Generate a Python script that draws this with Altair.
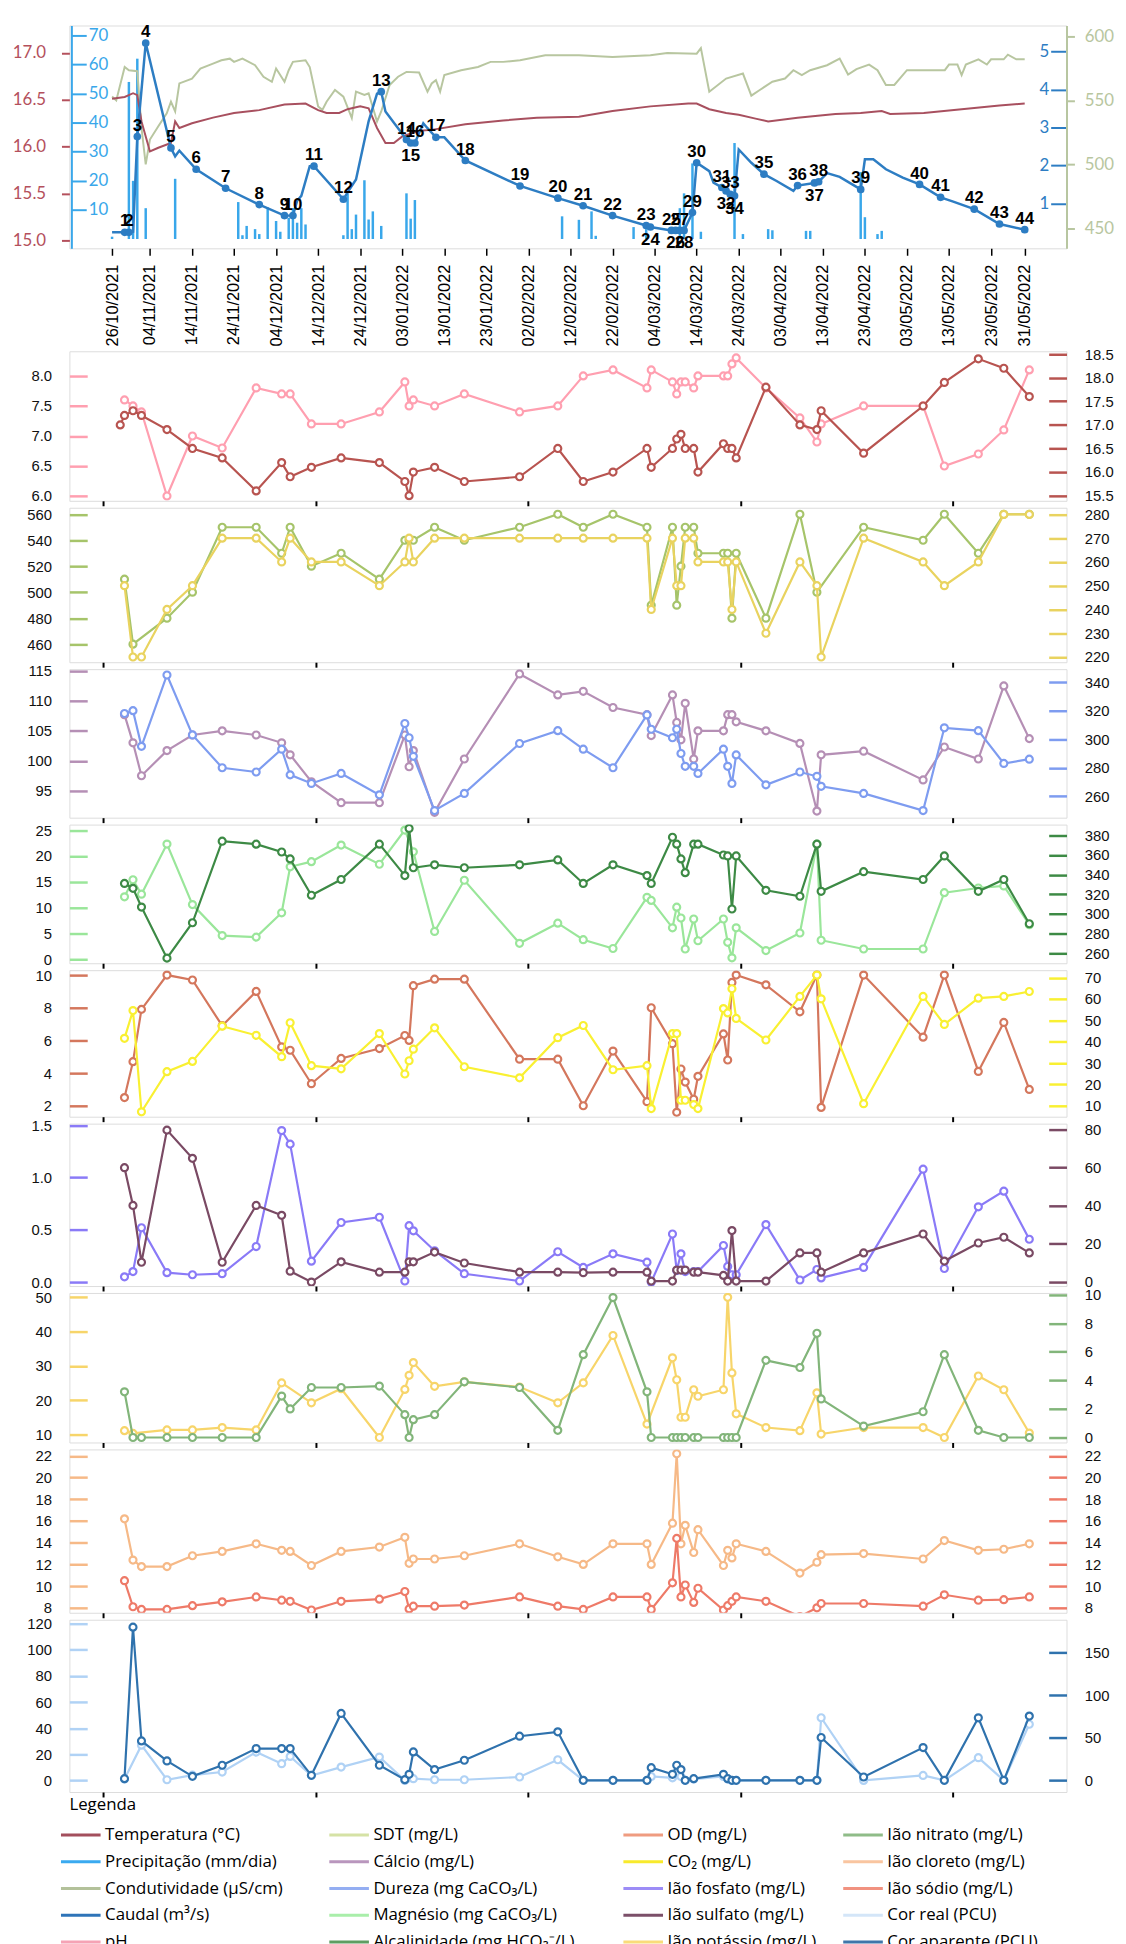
import altair as alt
import pandas as pd
from datetime import datetime, timedelta, timezone

# ----------------------------------------------------------------- dados
# dias contados a partir de 26/10/2021
dias_amostra = [3, 4, 6, 8, 14, 20, 27, 35, 41, 43, 48, 55, 64, 70, 71, 72, 77, 84, 97, 106,
                112, 119, 127, 128, 133, 134, 135, 136, 138, 139, 145, 146, 147, 148, 155, 163,
                167, 168, 178, 192, 197, 205, 211, 217]

caudal_dias = [0, 3, 4, 5, 6, 8, 14, 15, 16, 20, 27, 35, 41, 43, 44, 45, 47, 48, 55, 56, 58, 61,
               63, 64, 65, 68, 70, 71, 72, 74, 75, 77, 79, 84, 97, 106, 112, 119, 127, 128, 133,
               136, 138, 139, 142, 143, 145, 146, 147, 148, 149, 152, 155, 158, 162, 163, 167,
               168, 170, 173, 178, 179, 181, 184, 188, 192, 197, 200, 205, 211, 217]
caudal_vals = [0.24, 0.24, 0.24, 0.26, 2.76, 5.22, 2.46, 2.24, 2.39, 1.90, 1.40, 0.97, 0.68, 0.68,
               1.07, 1.20, 1.98, 1.98, 1.11, 1.29, 1.63, 3.16, 3.89, 3.94, 3.42, 2.98, 2.68, 2.59,
               2.59, 3.11, 2.98, 2.74, 2.74, 2.13, 1.46, 1.14, 0.94, 0.68, 0.42, 0.38, 0.29, 0.29,
               0.76, 2.07, 1.85, 1.55, 1.42, 1.33, 1.24, 1.20, 2.42, 2.07, 1.77, 1.59, 1.33, 1.47,
               1.54, 1.57, 1.80, 1.70, 1.37, 2.16, 2.16, 1.90, 1.68, 1.50, 1.16, 1.05, 0.85, 0.46,
               0.31]
caudal_amostras = [0.24, 0.24, 2.76, 5.22, 2.46, 1.90, 1.40, 0.97, 0.68, 0.68,
                   1.98, 1.11, 3.94, 2.68, 2.59, 2.59, 2.74, 2.13, 1.46, 1.14,
                   0.94, 0.68, 0.42, 0.38, 0.29, 0.29, 0.29, 0.29, 0.76, 2.07,
                   1.42, 1.33, 1.24, 1.20, 1.77, 1.47, 1.54, 1.57, 1.37, 1.50,
                   1.16, 0.85, 0.46, 0.31]
rotulos_abaixo = [15, 24, 26, 28, 32, 34, 37]

prec_dias = [0, 4, 5, 6, 8, 15, 30, 31, 32, 34, 35, 37, 39, 40, 42, 43, 44, 45, 46, 55, 56, 57,
             58, 60, 61, 62, 64, 70, 71, 72, 107, 111, 114, 115, 124, 127, 135, 136, 138, 140,
             148, 150, 156, 157, 165, 166, 178, 179, 182, 183]
prec_mm = [0.8, 54, 20, 62, 10.6, 20.7, 12.7, 1.3, 4.5, 3.4, 1.7, 10.9, 6.2, 2.5, 7.3, 10.6, 5.6,
           10.6, 5, 1.3, 15.7, 3.4, 8.4, 20.2, 6.7, 9.5, 4.5, 15.7, 7, 13.4, 7.8, 6.6, 9.5, 1.1,
           4.1, 3.4, 10.6, 15.7, 26, 2.5, 33, 1.7, 3.4, 3, 2.8, 2.8, 23, 7.5, 1.7, 2.8]

temp_dias = [0, 3, 5, 6, 7, 9, 11, 14, 15, 16, 19, 24, 29, 35, 41, 46, 49, 51, 54, 56, 59, 61,
             63, 65, 67, 69, 73, 76, 84, 93, 101, 111, 119, 128, 137, 139, 142, 146, 149, 153,
             156, 163, 172, 178, 183, 185, 193, 202, 211, 217]
temp_vals = [16.51, 16.53, 16.57, 16.55, 16.27, 15.95, 15.99, 16.04, 16.27, 16.20, 16.25, 16.31,
             16.36, 16.39, 16.45, 16.46, 16.39, 16.36, 16.36, 16.40, 16.43, 16.41, 16.20, 16.04,
             16.04, 16.11, 16.17, 16.18, 16.24, 16.28, 16.31, 16.32, 16.38, 16.43, 16.46, 16.46,
             16.40, 16.36, 16.34, 16.30, 16.27, 16.31, 16.35, 16.36, 16.38, 16.35, 16.36, 16.40,
             16.44, 16.46]

cond_dias = [0, 1, 3, 4, 6, 7, 8, 9, 11, 13, 14, 15, 16, 19, 21, 24, 26, 28, 29, 31, 34, 36, 38,
             39, 41, 42, 43, 46, 47, 49, 50, 51, 53, 55, 57, 58, 60, 61, 63, 64, 66, 68, 70, 73,
             75, 76, 77, 78, 79, 83, 87, 90, 93, 97, 103, 111, 119, 128, 132, 139, 140, 142, 146,
             150, 152, 154, 157, 160, 162, 164, 166, 170, 173, 175, 177, 180, 182, 184, 186, 189,
             198, 199, 201, 202, 203, 206, 208, 209, 212, 213, 215, 217]
cond_vals = [553, 550, 576, 573.5, 572.7, 528.5, 500.2, 519.5, 529.8, 540,
             549, 541.4, 563.2, 567, 574.8, 578.6, 581.2, 582.5, 580, 582.5,
             577.4, 568.4, 564.5, 574.8, 564.5, 573.5, 580, 581.2, 576, 545.2,
             542.6, 549, 558.1, 552.9, 536.2, 556.8, 554.2, 555.5, 533.6, 541.4,
             562, 568.4, 572.2, 571.7, 556.8, 563.2, 565.8, 556.8, 569.7, 573.5,
             576, 580, 580, 581.2, 585.1, 585.1, 583.8, 585.1, 586.9, 586.4,
             590.7, 556.8, 567, 570.9, 553.7, 558.1, 564.5, 567, 573.5, 569.7,
             573.5, 577.4, 582.5, 570.1, 574.3, 577.9, 573.5, 562, 562, 573.5,
             573.5, 577.9, 577.9, 569.7, 577.9, 582, 577.9, 582, 582, 585.6,
             582, 582]

N = None
ph = [N, 7.6, 7.5, 7.4, 6.0, 7.0, 6.8, 7.8, 7.7, 7.7, 7.2, 7.2, 7.4, 7.9, 7.5, 7.6, 7.5, 7.7, 7.4,
      7.5, 8.0, 8.1, 7.8, 8.1, 7.9, 7.7, 7.9, 7.9, 7.8, 8.0, 8.0, 8.0, 8.2, 8.3, 7.8, 7.3, 6.9,
      7.2, 7.5, 7.5, 6.5, 6.7, 7.1, 8.1]
temp_agua = [17.0, 17.2, 17.3, 17.2, 16.9, 16.5, 16.3, 15.6, 16.2, 15.9, 16.1, 16.3, 16.2, 15.8,
             15.5, 16.0, 16.1, 15.8, 15.9, 16.5, 15.8, 16.0, 16.5, 16.1, 16.5, 16.7, 16.8, 16.5,
             16.5, 16.0, 16.6, 16.5, 16.5, 16.3, 17.8, 17.0, 16.9, 17.3, 16.4, 17.4, 17.9, 18.4,
             18.2, 17.6]
cond_lab = [N, 510, 460, N, 480, 500, 550, 550, 530, 550, 520, 530, 510, 540, 540, 540, 550, 540,
            550, 560, 550, 560, 550, 490, 550, 490, 520, 550, 550, 530, 530, 530, 480, 530, 480,
            560, 500, N, 550, 540, 560, 530, 560, 560]
sdt = [N, 250, 220, 220, 240, 250, 270, 270, 260, 270, 260, 260, 250, 260, 270, 260, 270, 270,
       270, 270, 270, 270, 270, 240, 270, 250, 250, 270, 270, 260, 260, 260, 240, 260, 230, 260,
       250, 220, 270, 260, 250, 260, 280, 280]
calcio = [N, 107.7, 103, 97.5, 101.7, 104.3, 105, 104.3, 103, 101, 96.5, 93, 93, 104.3, 99,
          101.7, 91.4, 100.3, 114.5, 111, 111.6, 108.9, 107.7, 104.2, 111, 106.4, 103.5, 109.6,
          100.3, 105, 105, 107.7, 107.7, 106.5, 105, 102.9, 91.6, 101, 101.6, 96.8, 102.3, 100.3,
          112.5, 103.7]
dureza = [N, 318, 320, 295, 345, 303, 280, 277, 293, 275, 269, 276, 261, 311, 301, 288, 250, 262,
          297, 306, 293, 280, 317, 307, 301, 307, 290, 281, 281, 276, 293, 281, 269, 289, 268,
          277, 274, 267, 262, 250, 308, 306, 283, 286]
magnesio = [N, 12.1, 15.4, 12.6, 22.3, 10.6, 4.6, 4.3, 9, 17.9, 18.9, 22.1, 18.4, 25, N, 20.8,
            5.4, 15.3, 3.1, 7, 3.8, 2.1, 12, 11.4, 6.1, 10.1, 8, 2, 7.8, 3.6, 7.8, 3.3, 0.3, 6.1,
            1.7, 5.1, 22.3, 3.7, 2, 2, 12.9, 13.8, 14.2, 6.7]
alcalinidade = [N, 331, 326, 307, 255, 291, 374, 371, 363, 356, 319, 335, 371, 339, 387, 347, 350,
                347, 350, 355, 331, 350, 339, 331, 378, 371, 356, 342, 371, 371, 360, 359, 305,
                359, 324, 318, 371, 323, 343, 335, 359, 323, 335, 290]
od = [N, 2.5, 4.7, 7.9, 10, 9.7, 6.9, 9.0, 5.6, 5.4, 3.35, 4.9, 5.5, 6.3, 6.0, 9.35, 9.75, 9.75,
      4.85, 4.85, 2.0, 5.35, 2.25, 8.0, 5.8, 1.6, 4.25, 3.45, 2.4, 3.8, 6.4, 4.8, 9.55, 10, 9.4,
      7.75, 10, 1.9, 10, 6.2, 10, 4.1, 7.1, 3.0]
co2 = [N, 41.6, 54.6, 7.2, 26, 30.8, 47.3, 43, 33, 48.9, 28.8, 27.3, 43.8, 24.9, 31.1, 36.5, 46.5,
       28.3, 23.1, 41.9, 47.6, 26.9, 28.8, 8.7, 43.8, 43.8, 12.6, 12.6, 10.6, 8.7, 55.5, 53.5,
       64.8, 50.9, 40.8, 61.2, 71.2, 60.1, 11, 61.2, 48.1, 60.4, 61.2, 63.5]
fosfato = [N, 0.05, 0.1, 0.52, 0.09, 0.07, 0.08, 0.34, 1.45, 1.32, 0.2, 0.57, 0.62, 0.01, 0.54,
           0.49, 0.3, 0.08, 0.01, 0.29, 0.14, 0.27, 0.19, 0.0, 0.46, 0.11, 0.27, 0.1, 0.1, 0.1,
           0.35, 0.15, 0.07, 0.07, 0.55, 0.02, 0.12, 0.04, 0.14, 1.08, 0.13, 0.72, 0.87, 0.41]
sulfato = [N, 60, 40.2, 10.4, 79.7, 64.9, 10.4, 40.2, 35, 5.7, 0, 10.6, 5.2, 5.2, 10.6, 10.6, 15.7,
           10, 5.2, 5.2, 4.9, 5.2, 5.2, 0.5, 0.5, 6.3, 6.3, 6.3, 5.2, 5.2, 3.5, 0.5, 27, 0.5, 0.5,
           15.3, 15.3, 5.2, 15.3, 25.2, 11, 20.5, 23.5, 15.3]
potassio = [N, 11.2, 10.4, N, 11.4, 11.4, 12.1, 11.4, 25.1, N, 19.3, 23.4, 9.2, 23.2, 27.3, 31,
            24.1, 25.4, 23.9, 19.3, 25.1, 38.9, 13.1, N, 32.4, 26, 15.1, 15.1, 23.1, 21.2, 23.1,
            50, 28, 16.1, 12.1, 11.2, 22.2, 10.2, 12.1, 12.1, 9.2, 27.1, 23.1, 10.5]
nitrato = [N, 3.2, 0, 0, 0, 0, 0, 0, 2.9, 2, 3.5, 3.5, 3.6, 1.6, 0, 1.25, 1.6, 3.9, 3.5, 0.5, 5.8,
           9.8, 3.2, 0, 0, 0, 0, 0, 0, 0, 0, 0, 0, 0, 5.4, 4.9, 7.3, 2.7, 0.8, 1.8, 5.8, 0.5, 0, 0]
cloreto = [N, 16.2, 12.4, 11.8, 11.8, 12.8, 13.2, 13.9, 13.3, 13.2, 11.9, 13.2, 13.6, 14.5, 12.1,
           12.5, 12.5, 12.8, 13.9, 12.7, 12, 13.9, 13.9, 12, 15.8, 22.2, 13.9, 15.6, 13.1, 15.2,
           11.9, 13.3, 12.6, 13.9, 13.2, 11.2, 12.2, 12.9, 13, 12.5, 14.2, 13.3, 13.4, 13.9]
sodio = [N, 10.5, 8.1, 7.85, 7.85, 8.2, 8.55, 9, 8.7, 8.6, 7.8, 8.6, 8.8, 9.5, 7.9, 8.15, 8.15,
         8.25, 9, 8.15, 7.85, 9, 9, 7.85, 10.3, 14.4, 9, 10.1, 8.5, 9.8, 7.8, 8.2, 8.6, 9, 8.6,
         7.2, 8, 8.4, 8.4, 8.15, 9.2, 8.7, 8.75, 9]
cor_real = [N, 1, N, 27, 0.5, 4, 6.4, 21.7, 12.8, 18.4, 3.8, 10.2, 17.9, 0, 2, 1.3, 0.5, 0.5, 2.6,
            15.8, 0, 0, 0, 3, 2, 5, 3, 0, 1, N, 3, 1, 0, 0, 0, 0, 0, 48, 0, 3.8, 0, 17.4, 0, 43]
cor_aparente = [N, 2, 179.8, 46.3, 22.8, 4.7, 17.7, 37.3, 37.3, 37.3, 5.9, 78.5, 17.7, 0.8, 7.1,
                33.4, 12.6, 23.6, 51.8, 56.9, 0, 0, 0, 14.9, 7.1, 17.7, 12.6, 0, 2, N, 7.1, 2, 0,
                0, 0, 0, 0, 50.3, 3.9, 38.5, 0, 73.4, 0, 75.4]

dias_rotulos = [0, 9, 19, 29, 39, 49, 59, 69, 79, 89, 99, 109, 119, 129, 139, 149, 159, 169, 179,
                189, 199, 209, 217]
dias_ticks_inferiores = [-1, 49, 99, 149, 199]

legenda_colunas = [
    ["Temperatura (°C)", "Precipitação (mm/dia)", "Condutividade (µS/cm)", "Caudal (m³/s)", "pH"],
    ["SDT (mg/L)", "Cálcio (mg/L)", "Dureza (mg CaCO₃/L)", "Magnésio (mg CaCO₃/L)",
     "Alcalinidade (mg HCO₃⁻/L)"],
    ["OD (mg/L)", "CO₂ (mg/L)", "Ião fosfato (mg/L)", "Ião sulfato (mg/L)", "Ião potássio (mg/L)"],
    ["Ião nitrato (mg/L)", "Ião cloreto (mg/L)", "Ião sódio (mg/L)", "Cor real (PCU)",
     "Cor aparente (PCU)"],
]
legenda_cores = [
    ["#a34f5d", "#3aaaf0", "#b3c19a", "#2e74b8", "#f5a3b5"],
    ["#d5e2a5", "#b996bd", "#94aef2", "#a9eeaa", "#5e9e62"],
    ["#ef9c80", "#f8ea2c", "#9c8cf6", "#7b4f69", "#f9dc7a"],
    ["#8fbc88", "#f9c5a0", "#f19280", "#d4e6f8", "#3f76aa"],
]

# ----------------------------------------------------------------- helpers
BASE = datetime(2021, 10, 26)
BASE_UTC = datetime(2021, 10, 26, tzinfo=timezone.utc)


def para_datas(dias):
    return [(BASE + timedelta(days=d)).strftime("%Y-%m-%d") for d in dias]


def ms(d):
    return (BASE_UTC + timedelta(days=d)).timestamp() * 1000


W = 1007
XSCALE = alt.Scale(type="utc", domain=[ms(-8.97), ms(225.76)])
FONT_NUM = "Liberation Sans"
FONT_TOP = "Lato"
FONT_LEG = "Open Sans"


def xenc(axis):
    return alt.X("data:T", scale=XSCALE, title=None, axis=axis)


def yscale(dom):
    return alt.Scale(domain=dom, nice=False, zero=False)


# ----------------------------------------------------------------- painel superior
C_TEMP = "#a8505f"
C_TEMP_AX = "#b4505c"
C_PREC = "#39a7ea"
C_COND = "#b8c6a0"
C_CAU = "#2d7dc3"

df_prec = pd.DataFrame({"data": para_datas(prec_dias), "v": prec_mm})
df_temp = pd.DataFrame({"data": para_datas(temp_dias), "v": temp_vals})
df_cond = pd.DataFrame({"data": para_datas(cond_dias), "v": cond_vals})
df_cau = pd.DataFrame({"data": para_datas(caudal_dias), "v": caudal_vals})
df_cau_am = pd.DataFrame({
    "data": para_datas(dias_amostra),
    "v": caudal_amostras,
    "rotulo": [str(i + 1) for i in range(len(dias_amostra))],
    "abaixo": [(i + 1) in rotulos_abaixo for i in range(len(dias_amostra))],
})

eixo_datas = alt.Axis(values=[ms(d) for d in dias_rotulos], format="%d/%m/%Y", labelAngle=270,
                      labelAlign="right", labelBaseline="middle", tickSize=7, tickColor="black",
                      tickWidth=1.5, labelPadding=9, domain=False, labelFont=FONT_NUM,
                      labelFontSize=16.5, labelColor="black", labelOverlap=False,
                      labelFlush=False, grid=False)

prec = alt.Chart(df_prec).mark_bar(width=2.5, color=C_PREC).encode(
    x=xenc(eixo_datas),
    y=alt.Y("v:Q", scale=yscale([-3.2, 73.4]), title=None,
            axis=alt.Axis(orient="right", offset=-(W - 2), values=[10, 20, 30, 40, 50, 60, 70],
                          tickSize=15, tickColor=C_PREC, tickWidth=2, labelColor=C_PREC,
                          labelFont=FONT_TOP, labelFontSize=17, labelPadding=2,
                          domainColor=C_PREC, domainWidth=2, grid=False)),
    y2=alt.datum(0),
)
cond = alt.Chart(df_cond).mark_line(color=C_COND, strokeWidth=2).encode(
    x=xenc(eixo_datas),
    y=alt.Y("v:Q", scale=yscale([434.8, 608.3]), title=None,
            axis=alt.Axis(orient="right", values=[450, 500, 550, 600], tickSize=8,
                          tickColor=C_COND, tickWidth=2, labelColor=C_COND, labelFont=FONT_TOP,
                          labelFontSize=17, labelPadding=10, domainColor=C_COND, domainWidth=2,
                          grid=False)),
)
temp = alt.Chart(df_temp).mark_line(color=C_TEMP, strokeWidth=2).encode(
    x=xenc(eixo_datas),
    y=alt.Y("v:Q", scale=yscale([14.92, 17.29]), title=None,
            axis=alt.Axis(orient="left", values=[15.0, 15.5, 16.0, 16.5, 17.0], format=".1f",
                          tickSize=8, tickColor=C_TEMP_AX, tickWidth=2, labelColor=C_TEMP_AX,
                          labelFont=FONT_TOP, labelFontSize=17, labelPadding=16, domain=False,
                          grid=False)),
)
YCAU = yscale([-0.18, 5.68])
cau_linha = alt.Chart(df_cau).mark_line(color=C_CAU, strokeWidth=2.5).encode(
    x=xenc(eixo_datas),
    y=alt.Y("v:Q", scale=YCAU, title=None,
            axis=alt.Axis(orient="left", offset=-(W - 1), values=[1, 2, 3, 4, 5], tickSize=15,
                          tickColor=C_CAU, tickWidth=2, labelColor=C_CAU, labelFont=FONT_TOP,
                          labelFontSize=17, labelPadding=2, domain=False, grid=False)),
)
cau_pts = alt.Chart(df_cau_am).mark_circle(color=C_CAU, size=60, opacity=1).encode(
    x=xenc(eixo_datas), y=alt.Y("v:Q", scale=YCAU, axis=None))
txt_cima = alt.Chart(df_cau_am).transform_filter("!datum.abaixo").mark_text(
    font=FONT_NUM, fontSize=17, fontWeight="bold", color="black", dy=-11).encode(
    x=xenc(eixo_datas), y=alt.Y("v:Q", scale=YCAU, axis=None), text="rotulo:N")
txt_baixo = alt.Chart(df_cau_am).transform_filter("datum.abaixo").mark_text(
    font=FONT_NUM, fontSize=17, fontWeight="bold", color="black", dy=13).encode(
    x=xenc(eixo_datas), y=alt.Y("v:Q", scale=YCAU, axis=None), text="rotulo:N")

topo = alt.layer(prec, cond, temp, cau_linha, cau_pts, txt_cima, txt_baixo).resolve_scale(
    y="independent").properties(width=W, height=225)

# ----------------------------------------------------------------- painéis inferiores
df_am = pd.DataFrame({
    "data": para_datas(dias_amostra), "ph": ph, "temp": temp_agua, "cond": cond_lab, "sdt": sdt,
    "ca": calcio, "dur": dureza, "mg": magnesio, "alc": alcalinidade, "od": od, "co2": co2,
    "po4": fosfato, "so4": sulfato, "k": potassio, "no3": nitrato, "cl": cloreto, "na": sodio,
    "cr": cor_real, "ca_ap": cor_aparente,
})

eixo_x_inf = alt.Axis(values=[ms(d) for d in dias_ticks_inferiores], labels=False, tickSize=5,
                      tickColor="black", tickWidth=2, domain=False, grid=False)


def serie(campo, cor, dom, vals, fmt, orient):
    ax = alt.Axis(orient=orient, values=vals, format=fmt, offset=-18, tickSize=18, tickColor=cor,
                  tickWidth=2.5, labelPadding=18, labelColor="#111111", labelFont=FONT_NUM,
                  labelFontSize=15, domain=False, grid=False)
    return alt.Chart(df_am).transform_filter(f"isValid(datum.{campo})").mark_line(
        color=cor, strokeWidth=2.2, clip=True,
        point=alt.OverlayMarkDef(filled=True, fill="white", stroke=cor, strokeWidth=2.2, size=50,
                                 clip=True)).encode(
        x=xenc(eixo_x_inf),
        y=alt.Y(f"{campo}:Q", scale=yscale(dom), title=None, axis=ax))


def passos(a, b, s):
    out, v = [], a
    while v <= b + 1e-9:
        out.append(round(v, 3))
        v += s
    return out


# legenda: uma coluna por camada invisível, cada uma com a sua escala de cores
H10 = 174
LEG_X = [0, 271, 568, 790]  # início de cada coluna da legenda, relativo ao painel


def coluna_legenda(i):
    nomes, cores = legenda_colunas[i], legenda_cores[i]
    return alt.Chart(pd.DataFrame({"serie": nomes})).mark_line(strokeWidth=3).encode(
        x=alt.value(0), y=alt.value(0),
        color=alt.Color("serie:N", scale=alt.Scale(domain=nomes, range=cores),
                        legend=alt.Legend(title="Legenda" if i == 0 else " ", orient="none",
                                          legendX=LEG_X[i], legendY=H10 + 5,
                                          symbolType="M-2,0H2", symbolSize=400,
                                          symbolStrokeWidth=3, labelFont=FONT_LEG,
                                          labelFontSize=17, labelColor="black", labelLimit=400,
                                          titleFont=FONT_LEG, titleFontSize=17,
                                          titleFontWeight="normal", titleColor="black",
                                          titlePadding=10, rowPadding=7, labelOffset=13)),
    )


def painel(esq, dir_, altura, legenda=False):
    camadas = [serie(*esq, "left"), serie(*dir_, "right")]
    if legenda:
        camadas += [coluna_legenda(i) for i in range(4)]
        ch = alt.layer(*camadas).resolve_scale(y="independent", color="independent")
    else:
        ch = alt.layer(*camadas).resolve_scale(y="independent")
    return ch.properties(width=W, height=altura)


paineis = [
    painel(("ph", "#ff9fb0", [5.92, 8.41], [6.0, 6.5, 7.0, 7.5, 8.0], ".1f"),
           ("temp", "#b85450", [15.39, 18.56], passos(15.5, 18.5, 0.5), ".1f"), 151),
    painel(("cond", "#a6c46a", [446.1, 565], passos(460, 560, 20), "d"),
           ("sdt", "#e9d35f", [217.8, 282.8], passos(220, 280, 10), "d"), 156),
    painel(("ca", "#b58fb5", [90.5, 115.3], passos(95, 115, 5), "d"),
           ("dur", "#7e9cf0", [245, 349.1], passos(260, 340, 20), "d"), 150),
    painel(("mg", "#9ae69a", [-0.75, 26.06], passos(0, 25, 5), "d"),
           ("alc", "#3d8a45", [249.8, 390.9], passos(260, 380, 20), "d"), 140),
    painel(("od", "#d4775d", [1.33, 10.3], passos(2, 10, 2), "d"),
           ("co2", "#f9f032", [4.9, 73.5], passos(10, 70, 10), "d"), 148),
    painel(("po4", "#8a7af7", [-0.038, 1.516], [0.0, 0.5, 1.0, 1.5], ".1f"),
           ("so4", "#7a4a64", [-2.09, 83.1], passos(0, 80, 20), "d"), 164),
    painel(("k", "#f7d56a", [7.75, 51.27], passos(10, 50, 10), "d"),
           ("no3", "#82b57a", [-0.35, 10.12], passos(0, 10, 2), "d"), 151),
    painel(("cl", "#f6b987", [7.54, 22.6], passos(8, 22, 2), "d"),
           ("na", "#ee7a68", [7.54, 22.6], passos(8, 22, 2), "d"), 165),
    painel(("cr", "#b0d2f5", [-8.9, 123.1], passos(0, 120, 20), "d"),
           ("ca_ap", "#2f72ad", [-13.7, 188.5], [0, 50, 100, 150], "d"), H10, True),
]

inferior = alt.vconcat(*paineis, spacing=7, bounds="flush").resolve_scale(color="independent")

chart = alt.vconcat(topo, inferior, spacing=104, bounds="flush").resolve_scale(
    color="independent").properties(
    padding={"left": 3, "top": 5, "right": 3, "bottom": 5}
).configure_view(stroke="#2a2a2a", strokeWidth=1.8).configure(background="white")

chart.save("out.html", embed_options={"renderer": "svg", "actions": False})
